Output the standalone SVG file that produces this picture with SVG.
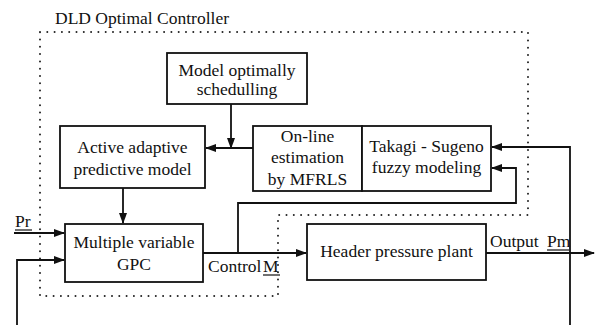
<svg xmlns="http://www.w3.org/2000/svg" width="595" height="325" viewBox="0 0 595 325">
<style>
text{font-size:17.5px;fill:#111}
.box{fill:#fff;stroke:#111;stroke-width:1.8}
.ln{fill:none;stroke:#111;stroke-width:1.8}
.arr{fill:none;stroke:#111;stroke-width:1.8;marker-end:url(#ah)}
.dot{fill:none;stroke:#222;stroke-width:2;stroke-dasharray:0 7.3;stroke-linecap:round}
.ul{stroke:#111;stroke-width:1.2}
</style>
<defs>
<marker id="ah" markerWidth="11" markerHeight="8" refX="10" refY="4" orient="auto" markerUnits="userSpaceOnUse">
<path d="M0,0 L11,4 L0,8 Z" fill="#111"/>
</marker>
</defs>
<g font-family="'Liberation Serif', 'DejaVu Serif', serif">
<g id="controller-boundary">
<path class="dot" d="M40,32 H528 V215 H278 V296 H40 Z"/>
<text x="55" y="24">DLD Optimal Controller</text>
</g>
<g id="connectors">
<line class="arr" x1="231" y1="104" x2="231" y2="148"/>
<line class="arr" x1="253" y1="148" x2="206" y2="148"/>
<line class="arr" x1="123" y1="188" x2="123" y2="223"/>
<line class="arr" x1="14" y1="233" x2="64" y2="233"/>
<polyline class="arr" points="17,325 17,260 64,260"/>
<line class="arr" x1="203" y1="253" x2="306" y2="253"/>
<polyline class="arr" points="238,253 238,203 516,203 516,168 492,168"/>
<line class="arr" x1="486" y1="253" x2="594" y2="253"/>
<polyline class="arr" points="570,325 570,147 492,147"/>
</g>
<g id="model-scheduling">
<rect class="box" x="167" y="53" width="140" height="51"/>
<text x="237" y="76" text-anchor="middle">Model optimally</text>
<text x="237" y="95" text-anchor="middle">schedulling</text>
</g>
<g id="active-model">
<rect class="box" x="60" y="126" width="145" height="62"/>
<text x="132.5" y="153" text-anchor="middle">Active adaptive</text>
<text x="132.5" y="175" text-anchor="middle">predictive model</text>
</g>
<g id="online-estimation">
<rect class="box" x="253" y="126" width="109" height="65"/>
<text x="307.5" y="142" text-anchor="middle">On-line</text>
<text x="307.5" y="163" text-anchor="middle">estimation</text>
<text x="307.5" y="185" text-anchor="middle">by MFRLS</text>
</g>
<g id="takagi-sugeno">
<rect class="box" x="362" y="126" width="129" height="65"/>
<text x="426.5" y="152" text-anchor="middle">Takagi - Sugeno</text>
<text x="426.5" y="173" text-anchor="middle">fuzzy modeling</text>
</g>
<g id="gpc">
<rect class="box" x="65" y="224" width="138" height="58"/>
<text x="134" y="248" text-anchor="middle">Multiple variable</text>
<text x="134" y="270" text-anchor="middle">GPC</text>
</g>
<g id="plant">
<rect class="box" x="307" y="224" width="179" height="56"/>
<text x="396.5" y="257" text-anchor="middle">Header pressure plant</text>
</g>
<g id="labels">
<text x="15" y="227">Pr</text>
<line class="ul" x1="15" y1="230" x2="32" y2="230"/>
<text x="208" y="272">Control</text>
<text x="263" y="272">M</text>
<line class="ul" x1="263" y1="275" x2="280" y2="275"/>
<text x="490" y="247">Output</text>
<text x="547" y="247">Pm</text>
<line class="ul" x1="547" y1="250" x2="569" y2="250"/>
</g>
</g>
</svg>
